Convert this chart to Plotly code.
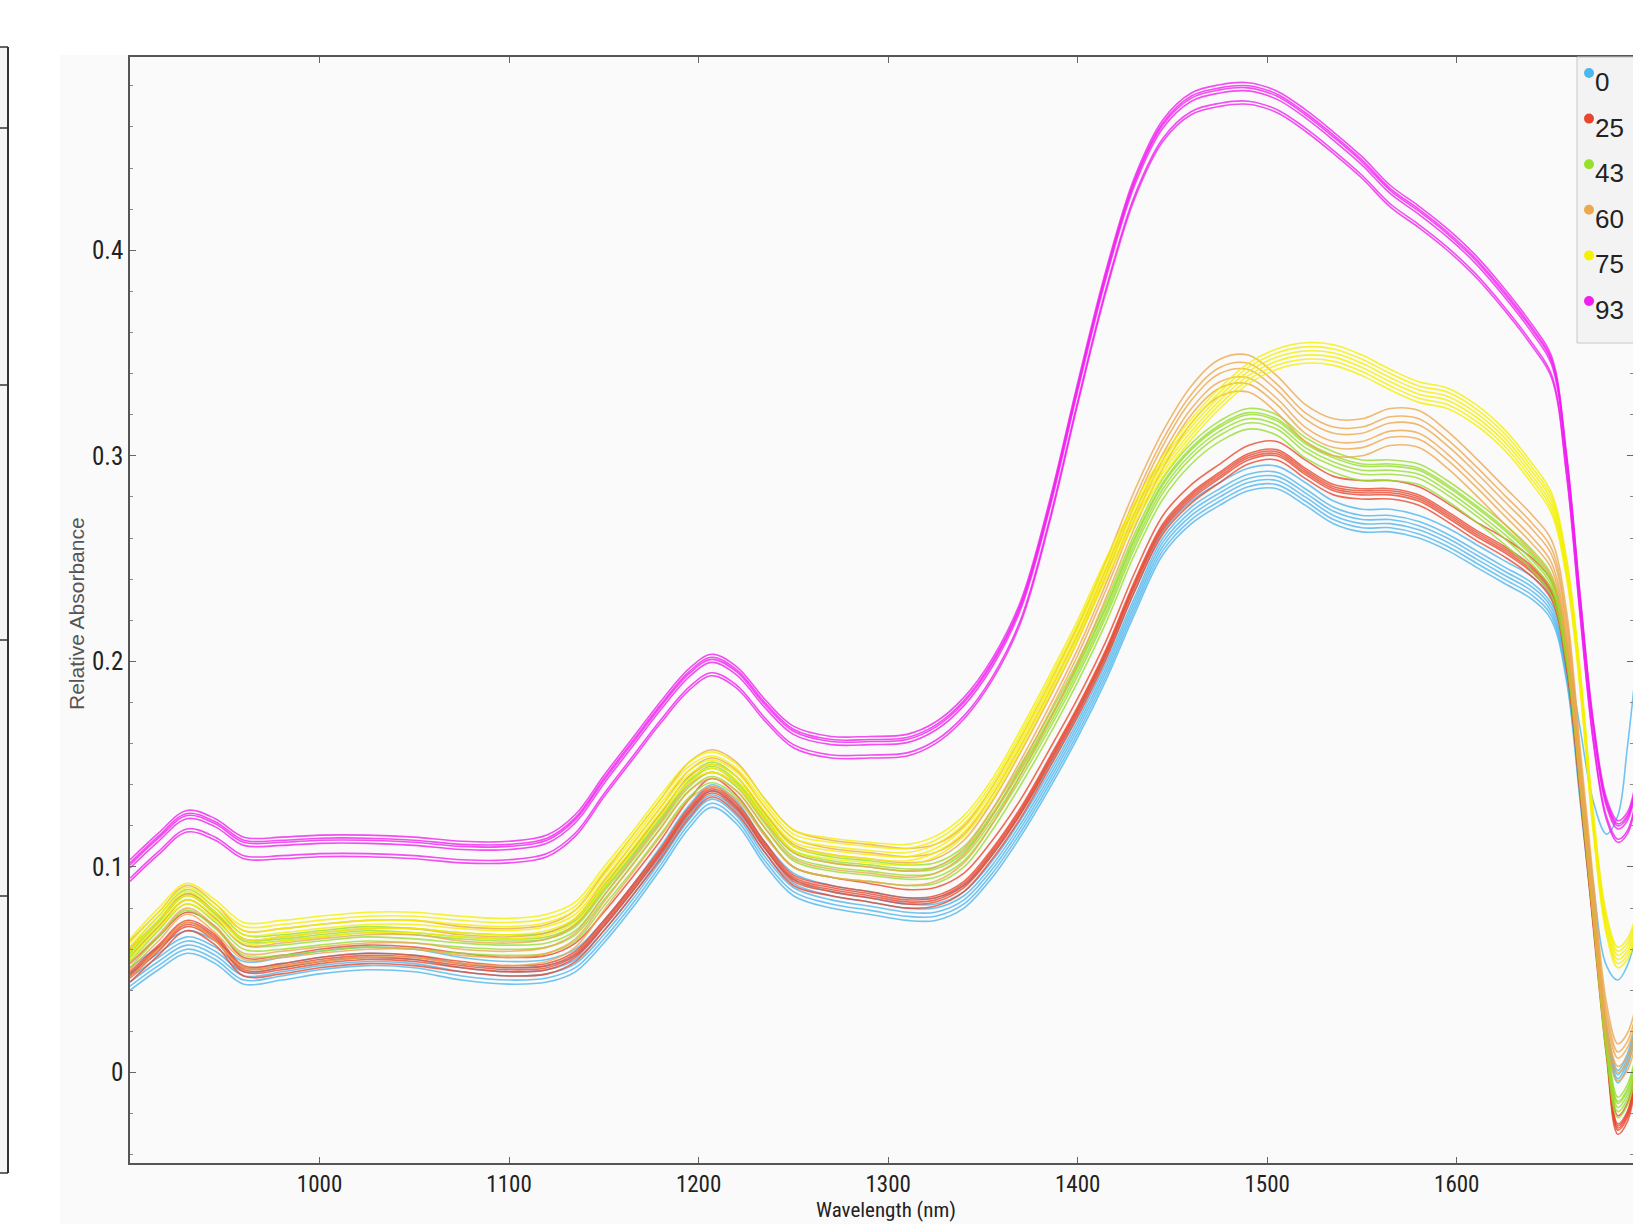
import plotly.graph_objects as go

# ---------------------------------------------------------------------------
# NIR absorbance spectra, six sample groups with replicate scans
# ---------------------------------------------------------------------------
WAVELENGTH = [
    900, 915, 930, 945, 960,
    980, 1000, 1025, 1050, 1075,
    1100, 1120, 1135, 1150, 1165,
    1180, 1195, 1207, 1220, 1235,
    1250, 1270, 1290, 1310, 1325,
    1340, 1355, 1370, 1385, 1400,
    1415, 1430, 1445, 1460, 1475,
    1490, 1505, 1520, 1535, 1550,
    1565, 1580, 1595, 1610, 1625,
    1640, 1650, 1658, 1665, 1672,
    1679, 1685, 1690, 1695, 1700,
]

GROUP_LABELS = ["0", "25", "43", "60", "75", "93"]

# mean spectrum of each group
SPEC_0 = [
    0.045, 0.055, 0.063, 0.058, 0.048,
    0.050, 0.053, 0.055, 0.054, 0.050,
    0.048, 0.049, 0.054, 0.068, 0.085,
    0.104, 0.124, 0.134, 0.126, 0.106,
    0.091, 0.085, 0.082, 0.079, 0.079,
    0.085, 0.100, 0.120, 0.143, 0.168,
    0.196, 0.228, 0.257, 0.272, 0.281,
    0.288, 0.289, 0.281, 0.272, 0.268,
    0.268, 0.265, 0.259, 0.251, 0.243,
    0.235, 0.225, 0.195, 0.138, 0.078,
    0.022, 0.000, 0.008, 0.025, 0.045,
]
SPEC_25 = [
    0.048, 0.061, 0.073, 0.066, 0.051,
    0.052, 0.055, 0.057, 0.056, 0.053,
    0.051, 0.052, 0.058, 0.073, 0.090,
    0.108, 0.128, 0.138, 0.130, 0.111,
    0.095, 0.090, 0.087, 0.084, 0.085,
    0.092, 0.108, 0.128, 0.152, 0.177,
    0.205, 0.238, 0.266, 0.281, 0.291,
    0.300, 0.302, 0.293, 0.285, 0.283,
    0.283, 0.280, 0.272, 0.263, 0.255,
    0.245, 0.234, 0.200, 0.140, 0.075,
    0.012, -0.026, -0.020, 0.000, 0.020,
]
SPEC_43 = [
    0.057, 0.072, 0.085, 0.076, 0.063,
    0.063, 0.065, 0.067, 0.066, 0.064,
    0.063, 0.064, 0.070, 0.087, 0.104,
    0.122, 0.140, 0.147, 0.140, 0.122,
    0.106, 0.101, 0.099, 0.097, 0.098,
    0.106, 0.124, 0.146, 0.170, 0.196,
    0.225, 0.258, 0.285, 0.302, 0.313,
    0.319, 0.316, 0.305, 0.298, 0.294,
    0.294, 0.292, 0.284, 0.274, 0.263,
    0.250, 0.238, 0.205, 0.145, 0.080,
    0.015, -0.016, -0.010, 0.006, 0.025,
]
SPEC_60 = [
    0.055, 0.069, 0.082, 0.073, 0.060,
    0.061, 0.063, 0.065, 0.065, 0.062,
    0.061, 0.063, 0.070, 0.088, 0.106,
    0.124, 0.142, 0.148, 0.142, 0.124,
    0.109, 0.104, 0.102, 0.100, 0.102,
    0.111, 0.130, 0.154, 0.180, 0.208,
    0.240, 0.274, 0.303, 0.325, 0.338,
    0.340, 0.330, 0.316, 0.309, 0.309,
    0.314, 0.313, 0.303, 0.290, 0.276,
    0.262, 0.250, 0.215, 0.150, 0.085,
    0.025, 0.005, 0.010, 0.025, 0.045,
]
SPEC_75 = [
    0.060, 0.075, 0.087, 0.079, 0.068,
    0.069, 0.071, 0.073, 0.073, 0.071,
    0.070, 0.072, 0.078, 0.095, 0.112,
    0.130, 0.146, 0.151, 0.145, 0.128,
    0.113, 0.109, 0.107, 0.106, 0.110,
    0.120, 0.138, 0.162, 0.188, 0.215,
    0.245, 0.272, 0.295, 0.313, 0.328,
    0.340, 0.347, 0.350, 0.349, 0.344,
    0.337, 0.331, 0.328, 0.320, 0.308,
    0.291, 0.277, 0.245, 0.192, 0.122,
    0.072, 0.056, 0.060, 0.072, 0.085,
]
SPEC_93 = [
    0.098, 0.111, 0.122, 0.118, 0.109,
    0.109, 0.110, 0.110, 0.109, 0.107,
    0.107, 0.110, 0.120, 0.139, 0.157,
    0.175, 0.191, 0.198, 0.192, 0.176,
    0.163, 0.158, 0.158, 0.159, 0.165,
    0.177, 0.196, 0.224, 0.272, 0.330,
    0.385, 0.430, 0.458, 0.471, 0.475,
    0.476, 0.472, 0.463, 0.452, 0.440,
    0.426, 0.416, 0.405, 0.392, 0.376,
    0.358, 0.343, 0.295, 0.228, 0.166,
    0.128, 0.117, 0.121, 0.138, 0.165,
]

# baseline shift of each replicate scan relative to its group mean
SHIFT_0 = [-0.005, -0.003, -0.001, 0.001, 0.003, 0.006]
SHIFT_25 = [-0.004, -0.002, -0.001, 0.000, 0.001, 0.005]
SHIFT_43 = [-0.006, -0.003, -0.001, 0.001, 0.002, 0.004]
SHIFT_60 = [-0.009, -0.005, -0.002, 0.002, 0.005, 0.009]
SHIFT_75 = [-0.005, -0.003, -0.001, 0.001, 0.003, 0.005]
SHIFT_93 = [-0.005, -0.0035, 0.0015, 0.003, 0.004, 0.0055]

# two scans of group "0" with a much shallower band at ~1685 nm
TAIL_WAVELENGTH = [1658, 1665, 1672, 1679, 1685, 1690, 1695, 1700]
TAIL_0_MID = [0.200, 0.150, 0.092, 0.052, 0.045, 0.052, 0.068, 0.090]
TAIL_0_SHALLOW = [0.205, 0.168, 0.132, 0.116, 0.125, 0.158, 0.200, 0.240]
TAIL_0_SCANS = {4: TAIL_0_SHALLOW, 5: TAIL_0_MID}

GROUP_SPECTRA = [SPEC_0, SPEC_25, SPEC_43, SPEC_60, SPEC_75, SPEC_93]
GROUP_SHIFTS = [SHIFT_0, SHIFT_25, SHIFT_43, SHIFT_60, SHIFT_75, SHIFT_93]
GROUP_COLORS = ["#4cb6ee", "#e8472f", "#97df2c", "#eda74c", "#f4f000", "#f01ef0"]

# ---------------------------------------------------------------------------
FIG_W, FIG_H = 1633, 1224
M_L, M_R, M_T, M_B = 130, 0, 57, 61
PLOT_W = FIG_W - M_L - M_R
PLOT_H = FIG_H - M_T - M_B


def px(x):
    """pixel column -> paper x"""
    return (x - M_L) / PLOT_W


def py(y):
    """pixel row -> paper y"""
    return (FIG_H - M_B - y) / PLOT_H


TICK_FONT = "Liberation Sans Narrow, Roboto Condensed, Liberation Sans, sans-serif"

fig = go.Figure()

for label, spec, shifts, color in zip(GROUP_LABELS, GROUP_SPECTRA, GROUP_SHIFTS, GROUP_COLORS):
    for k, s in enumerate(shifts):
        yv = [v + s for v in spec]
        if label == "0" and k in TAIL_0_SCANS:
            tail = dict(zip(TAIL_WAVELENGTH, TAIL_0_SCANS[k]))
            yv = [tail.get(w, v) for w, v in zip(WAVELENGTH, yv)]
        fig.add_trace(go.Scatter(
            x=WAVELENGTH, y=yv, mode="lines",
            line=dict(color=color, width=1.6, shape="spline", smoothing=1.0),
            opacity=0.78, showlegend=False, hoverinfo="skip",
            name=label,
        ))

shapes = []
annotations = []

# light panel behind this subplot
shapes.append(dict(type="rect", xref="paper", yref="paper", layer="below",
                   x0=px(60), x1=px(FIG_W + 10), y0=py(FIG_H + 10), y1=py(55),
                   fillcolor="#fafafa", line=dict(width=0)))

# edge of the neighbouring panel on the left
shapes.append(dict(type="rect", xref="paper", yref="paper", layer="below",
                   x0=px(-5), x1=px(8), y0=py(1173), y1=py(47),
                   fillcolor="#f5f5f5", line=dict(width=0)))
shapes.append(dict(type="line", xref="paper", yref="paper",
                   x0=px(8), x1=px(8), y0=py(47), y1=py(1173),
                   line=dict(color="#333333", width=2)))
for yy in [47, 128, 385, 640, 896, 1173]:
    shapes.append(dict(type="line", xref="paper", yref="paper",
                       x0=px(-5), x1=px(8), y0=py(yy), y1=py(yy),
                       line=dict(color="#333333", width=1.5)))

# legend box
LEG_X0, LEG_Y0, LEG_Y1 = 1577, 57, 343
shapes.append(dict(type="rect", xref="paper", yref="paper",
                   x0=px(LEG_X0), x1=px(FIG_W + 40), y0=py(LEG_Y1), y1=py(LEG_Y0),
                   fillcolor="#f3f3f3", line=dict(color="#c8c8c8", width=1)))
for i, (label, color) in enumerate(zip(GROUP_LABELS, GROUP_COLORS)):
    ty = 82 + i * 45.6
    dy = ty - 9
    shapes.append(dict(type="circle", xref="paper", yref="paper",
                       x0=px(1584), x1=px(1594), y0=py(dy + 5), y1=py(dy - 5),
                       fillcolor=color, line=dict(width=0)))
    annotations.append(dict(xref="paper", yref="paper", x=px(1593), y=py(ty),
                            xanchor="left", yanchor="middle", showarrow=False,
                            text=label, font=dict(family="Liberation Sans, Arial", size=26, color="#222222")))

# axis titles
annotations.append(dict(xref="paper", yref="paper", x=px(76), y=py(614),
                        textangle=-90, showarrow=False, xanchor="center", yanchor="middle",
                        text="Relative Absorbance",
                        font=dict(family="Liberation Sans, Arial", size=21, color="#555555")))
annotations.append(dict(xref="paper", yref="paper", x=px(886), y=py(1224),
                        showarrow=False, xanchor="center", yanchor="bottom",
                        text="Wavelength (nm)",
                        font=dict(family=TICK_FONT, size=21, color="#222222")))

fig.update_layout(
    width=FIG_W, height=FIG_H,
    margin=dict(l=M_L, r=M_R, t=M_T, b=M_B, autoexpand=False),
    paper_bgcolor="white", plot_bgcolor="#fafafa",
    showlegend=False,
    shapes=shapes, annotations=annotations,
    xaxis=dict(
        range=[900, 1693], tickvals=[1000, 1100, 1200, 1300, 1400, 1500, 1600],
        showgrid=False, zeroline=False, showline=True, linecolor="#555555", linewidth=1.5,
        mirror="ticks", ticks="inside", ticklen=6, tickcolor="#666666",
        tickfont=dict(family=TICK_FONT, size=23, color="#222222"),
    ),
    yaxis=dict(
        range=[-0.044, 0.494], tick0=0, dtick=0.1,
        showgrid=False, zeroline=False, showline=True, linecolor="#555555", linewidth=1.5,
        mirror="ticks", ticks="inside", ticklen=6, tickcolor="#666666",
        minor=dict(dtick=0.02, ticks="inside", ticklen=3, tickcolor="#888888"),
        tickfont=dict(family=TICK_FONT, size=25, color="#222222"),
    ),
)

fig.write_html("out.html")
